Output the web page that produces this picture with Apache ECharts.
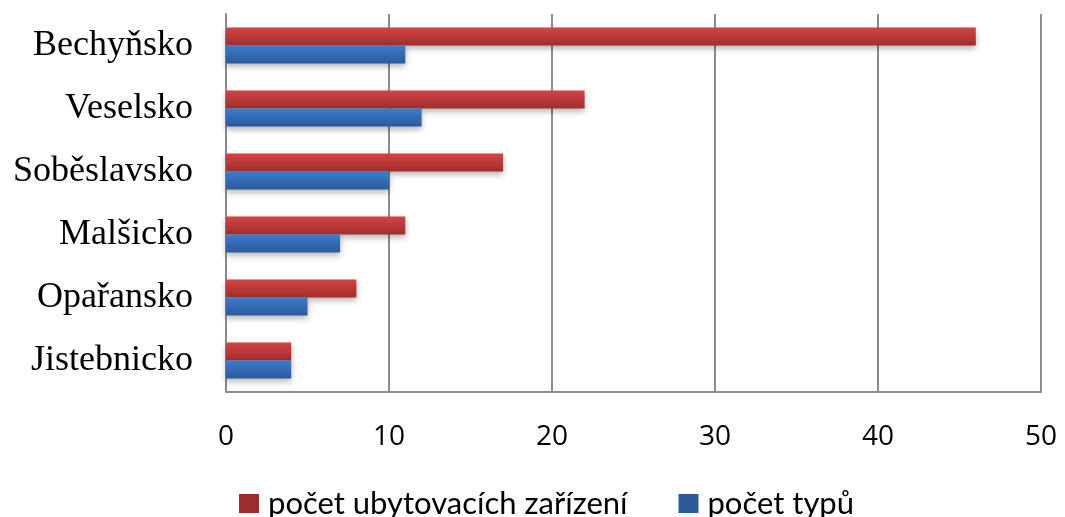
<!DOCTYPE html>
<html>
<head>
<meta charset="utf-8">
<script src="https://cdn.jsdelivr.net/npm/echarts@6/dist/echarts.min.js"></script>
<style>
  html, body { margin: 0; padding: 0; background: #fff; }
  #chart { width: 1065px; height: 517px; }
</style>
</head>
<body>
<div id="chart"></div>
<script>
// categories, bottom to top as ECharts draws a category y-axis
const categories = ["Jistebnicko", "Opařansko", "Malšicko", "Soběslavsko", "Veselsko", "Bechyňsko"];
const zarizeni = [4, 8, 11, 17, 22, 46];
const typy = [4, 5, 7, 10, 12, 11];
const seriesNames = ["počet ubytovacích zařízení", "počet typů"];

const chart = echarts.init(document.getElementById("chart"));

function grad(top, bottom) {
  return new echarts.graphic.LinearGradient(0, 0, 0, 1, [
    { offset: 0, color: top },
    { offset: 1, color: bottom }
  ]);
}

chart.setOption({
  animation: false,
  grid: { left: 226, right: 24, top: 14, bottom: 125, containLabel: false },
  legend: {
    top: 483,
    left: 234,
    itemWidth: 20,
    itemHeight: 19,
    itemGap: 51,
    icon: "rect",
    textStyle: { fontFamily: "Lato, Open Sans", fontSize: 31, color: "#000", padding: [0, 0, 0, 4] },
    data: [
      { name: seriesNames[0], itemStyle: { color: "#9b2d2b" } },
      { name: seriesNames[1], itemStyle: { color: "#2d5a98" } }
    ]
  },
  xAxis: {
    type: "value",
    min: 0,
    max: 50,
    interval: 10,
    axisLine: { show: true, lineStyle: { color: "#8c8c8c", width: 2 } },
    axisTick: { show: false },
    splitLine: { show: true, lineStyle: { color: "#8c8c8c", width: 2 } },
    axisLabel: { color: "#000", fontSize: 28, margin: 31, fontFamily: "Open Sans, Liberation Sans" }
  },
  yAxis: {
    type: "category",
    data: categories,
    axisLine: { show: true, lineStyle: { color: "#8c8c8c", width: 2 } },
    axisTick: { show: false },
    axisLabel: { color: "#000", fontSize: 36, margin: 33, fontFamily: "Liberation Serif, Times New Roman, serif" }
  },
  series: [
    {
      name: seriesNames[0],
      type: "bar",
      data: zarizeni,
      barWidth: 18,
      barGap: "0%",
      itemStyle: {
        color: grad("#d24444", "#a22e2c"),
        shadowColor: "rgba(0,0,0,0.3)",
        shadowBlur: 6,
        shadowOffsetY: 3
      }
    },
    {
      name: seriesNames[1],
      type: "bar",
      data: typy,
      barWidth: 18,
      barGap: "0%",
      itemStyle: {
        color: grad("#3c7bcc", "#2b5a9c"),
        shadowColor: "rgba(0,0,0,0.3)",
        shadowBlur: 6,
        shadowOffsetY: 3
      }
    }
  ]
});
</script>
</body>
</html>
